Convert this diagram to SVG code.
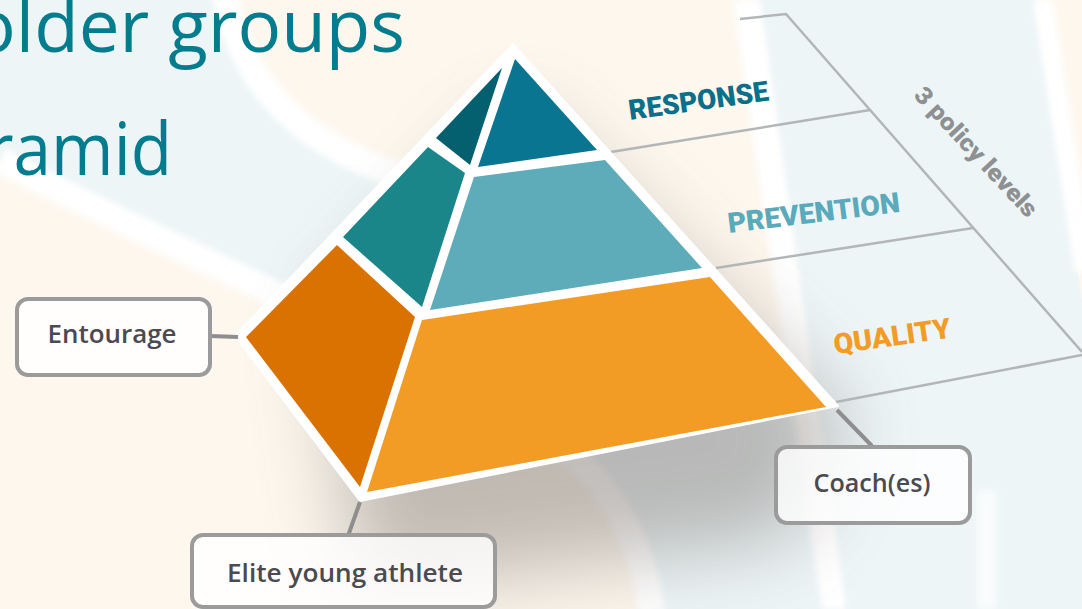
<svg xmlns="http://www.w3.org/2000/svg" width="1082" height="609" viewBox="0 0 1082 609">
<defs>
<style>
.title{font-family:"Open Sans","Liberation Sans",sans-serif;font-size:73px;fill:#037c8d;}
.lvl{font-family:Roboto,"Open Sans","Liberation Sans",sans-serif;font-weight:900;font-size:28px;}
.box{fill:#ffffff;fill-opacity:0.8;stroke:#9b9b9b;stroke-width:4;}
.lbl{font-family:"Open Sans","Liberation Sans",sans-serif;font-weight:600;font-size:25px;fill:#4a4a50;text-anchor:middle;}
.conn{stroke:#8e8e8e;stroke-width:4;fill:none;}
.pl{stroke:#b3b6b8;stroke-width:2.5;fill:none;}
.wband{fill:none;stroke:#ffffff;stroke-linecap:butt;}
</style>
<filter id="soft" x="-20%" y="-20%" width="140%" height="140%"><feGaussianBlur stdDeviation="3"/></filter>
<filter id="shadow" x="-50%" y="-50%" width="200%" height="200%"><feGaussianBlur stdDeviation="40"/></filter>
</defs>

<g id="background">
<rect x="0" y="0" width="1082" height="609" fill="#fdf7ee"/>
<path d="M0,0 L225,0 C245,100 320,160 440,190 C560,220 700,300 790,380 L840,609 L652,609 C640,530 605,475 545,435 C430,355 200,265 0,160 Z" fill="#edf5f7"/>
<polygon points="758,0 1035,0 1082,300 1082,609 843,609" fill="#edf5f7"/>
<g filter="url(#soft)">
<path class="wband" stroke-width="26" d="M225,-5 C245,100 320,160 445,188"/>
<path class="wband" stroke-width="26" d="M0,160 C200,265 430,355 545,435 C605,475 640,530 652,612"/>
<polygon points="733,0 760,0 846,609 822,609" fill="#ffffff"/>
<polygon points="1033,0 1053,0 1095,272 1075,272" fill="#ffffff"/>
<rect x="977" y="490" width="20" height="119" fill="#ffffff" opacity="0.7"/>
</g>
</g>

<g id="shadow">
<polygon points="320,320 520,110 850,420 790,540 360,590" fill="#6e6660" opacity="0.42" filter="url(#shadow)"/>
</g>

<g id="title">
<text class="title" x="-28" y="52" textLength="433" lengthAdjust="spacingAndGlyphs">older groups</text>
<text class="title" x="-14" y="175" textLength="186" lengthAdjust="spacingAndGlyphs">ramid</text>
</g>

<g id="policy-lines">
<polyline class="pl" points="740,19 786,14 1082,352"/>
<line class="pl" x1="611" y1="152" x2="870" y2="110"/>
<line class="pl" x1="716" y1="268" x2="973" y2="228"/>
<line class="pl" x1="836" y1="402" x2="1082" y2="355"/>
</g>

<g id="pyramid">
<polygon points="513,44 838,406 360,501 235,336" fill="#ffffff" stroke="#ffffff" stroke-width="2" stroke-linejoin="round"/>
<polygon id="l-resp" points="436,138 502,68 470,165" fill="#045f6e"/>
<polygon id="f-resp" points="515,59 597,150 478,167" fill="#0a7590"/>
<polygon id="l-prev" points="343,237 428,147 465,173 422,307" fill="#1a8689"/>
<polygon id="f-prev" points="474,177 605,160 702,268 430,310" fill="#5eabb9"/>
<polygon id="l-qual" points="246,337 337,245 415,317 360,487" fill="#d97200"/>
<polygon id="f-qual" points="422,320 710,277 826,407 367,492" fill="#f39c25"/>
</g>

<g id="level-labels">
<text class="lvl" x="630" y="120" fill="#0b6f8a" transform="rotate(-8 630 120)" textLength="141" lengthAdjust="spacingAndGlyphs">RESPONSE</text>
<text class="lvl" x="729" y="233" fill="#5aaabb" transform="rotate(-7 729 233)" textLength="173" lengthAdjust="spacingAndGlyphs">PREVENTION</text>
<text class="lvl" x="835" y="354" fill="#f39c25" font-size="29" transform="rotate(-8 835 354)" textLength="118" lengthAdjust="spacingAndGlyphs">QUALITY</text>
<text x="0" y="8" font-family="Roboto,'Open Sans','Liberation Sans',sans-serif" font-weight="900" font-size="24" fill="#8e9092" text-anchor="middle" transform="translate(976 152) rotate(47)" textLength="168" lengthAdjust="spacingAndGlyphs">3 policy levels</text>
</g>

<g id="connectors">
<line class="conn" x1="210" y1="336" x2="238" y2="337"/>
<line class="conn" x1="360" y1="502" x2="348" y2="536"/>
<line class="conn" x1="837" y1="410" x2="872" y2="446"/>
</g>

<g id="node-entourage">
<rect class="box" x="17" y="299" width="193" height="76" rx="11"/>
<text class="lbl" x="112" y="343" textLength="129" lengthAdjust="spacingAndGlyphs">Entourage</text>
</g>
<g id="node-athlete">
<rect class="box" x="192" y="535" width="303" height="72" rx="11"/>
<text class="lbl" x="345" y="582" textLength="236" lengthAdjust="spacingAndGlyphs">Elite young athlete</text>
</g>
<g id="node-coach">
<rect class="box" x="776" y="447" width="194" height="76" rx="11"/>
<text class="lbl" x="872" y="492" textLength="117" lengthAdjust="spacingAndGlyphs">Coach(es)</text>
</g>
</svg>
